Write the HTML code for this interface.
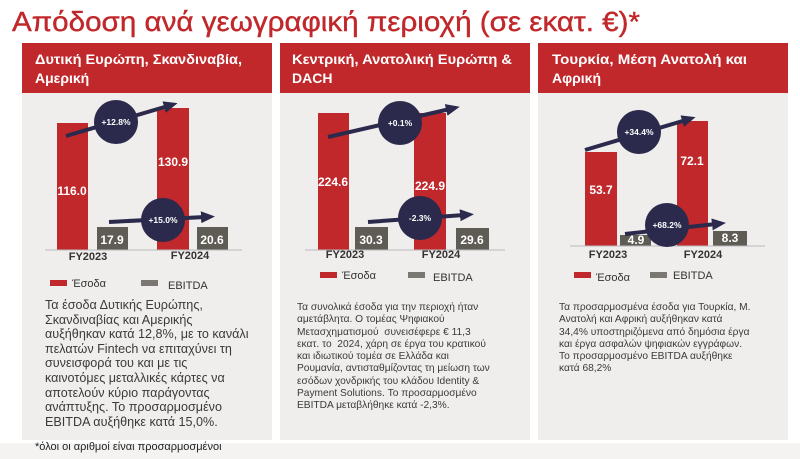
<!DOCTYPE html>
<html><head><meta charset="utf-8"><style>
body{margin:0;width:800px;height:459px;background:#fff;position:relative;overflow:hidden;font-family:"Liberation Sans","DejaVu Sans",sans-serif}
.t{position:absolute;color:#3a3a3a;white-space:nowrap}
</style></head><body>
<svg width="800" height="459" style="position:absolute;left:0;top:0" font-family="Liberation Sans, DejaVu Sans, sans-serif">
<defs><marker id="ah" markerUnits="userSpaceOnUse" markerWidth="14" markerHeight="12" refX="4" refY="6" orient="auto"><path d="M0,0 L14,6 L0,12 z" fill="#2b2a4c"/></marker></defs>
<text x="12" y="31" font-size="28" fill="#c0282b" stroke="#c0282b" stroke-width="0.4" textLength="628" lengthAdjust="spacingAndGlyphs">Απόδοση ανά γεωγραφική περιοχή (σε εκατ. €)*</text>
<rect x="22" y="93" width="250" height="347" fill="#efeeec"/>
<rect x="280" y="93" width="250" height="347" fill="#efeeec"/>
<rect x="538" y="93" width="250" height="347" fill="#efeeec"/>
<rect x="0" y="443" width="800" height="16" fill="#f4f3f2"/>
<rect x="22" y="43" width="250" height="50" fill="#c0282b"/>
<rect x="280" y="43" width="250" height="50" fill="#c0282b"/>
<rect x="538" y="43" width="250" height="50" fill="#c0282b"/>
<g fill="#fff" font-size="14" font-weight="bold">
<text x="35" y="64" textLength="207" lengthAdjust="spacingAndGlyphs">Δυτική Ευρώπη, Σκανδιναβία,</text><text x="35" y="83">Αμερική</text>
<text x="292" y="64" textLength="220" lengthAdjust="spacingAndGlyphs">Κεντρική, Ανατολική Ευρώπη &amp;</text><text x="292" y="83">DACH</text>
<text x="552" y="64" textLength="195" lengthAdjust="spacingAndGlyphs">Τουρκία, Μέση Ανατολή και</text><text x="552" y="83">Αφρική</text>
</g>
<g>
<rect x="57" y="123" width="31" height="127" fill="#c0282b"/>
<rect x="157" y="108" width="32" height="142" fill="#c0282b"/>
<rect x="97" y="227" width="31" height="23" fill="#5f5b55"/>
<rect x="197" y="227" width="31" height="23" fill="#5f5b55"/>
<line x1="45" y1="250" x2="242" y2="250" stroke="#bbb"/>
<line x1="66" y1="136" x2="168" y2="106" stroke="#2b2a4c" stroke-width="4" marker-end="url(#ah)"/>
<circle cx="116" cy="122" r="22" fill="#2b2a4c"/>
<line x1="109" y1="222" x2="205" y2="217" stroke="#2b2a4c" stroke-width="4" marker-end="url(#ah)"/>
<circle cx="163" cy="220" r="22" fill="#2b2a4c"/>
</g>
<g>
<rect x="318" y="113" width="31" height="137" fill="#c0282b"/>
<rect x="414" y="113" width="32" height="137" fill="#c0282b"/>
<rect x="355" y="227" width="33" height="23" fill="#5f5b55"/>
<rect x="456" y="228" width="33" height="22" fill="#5f5b55"/>
<line x1="305" y1="250" x2="505" y2="250" stroke="#bbb"/>
<line x1="328" y1="137" x2="450" y2="109" stroke="#2b2a4c" stroke-width="4" marker-end="url(#ah)"/>
<circle cx="400" cy="123" r="22" fill="#2b2a4c"/>
<line x1="368" y1="222" x2="464" y2="215" stroke="#2b2a4c" stroke-width="4" marker-end="url(#ah)"/>
<circle cx="420" cy="218" r="22" fill="#2b2a4c"/>
</g>
<g>
<rect x="585" y="152" width="32" height="94" fill="#c0282b"/>
<rect x="677" y="121" width="31" height="125" fill="#c0282b"/>
<rect x="620" y="235" width="31" height="11" fill="#5f5b55"/>
<rect x="713" y="231" width="34" height="15" fill="#5f5b55"/>
<line x1="570" y1="246" x2="765" y2="246" stroke="#bbb"/>
<line x1="585" y1="150" x2="686" y2="120" stroke="#2b2a4c" stroke-width="4" marker-end="url(#ah)"/>
<circle cx="639" cy="132" r="22" fill="#2b2a4c"/>
<line x1="625" y1="234" x2="716" y2="224" stroke="#2b2a4c" stroke-width="4" marker-end="url(#ah)"/>
<circle cx="667" cy="225" r="22" fill="#2b2a4c"/>
</g>
<g fill="#fff" font-size="12" font-weight="bold" text-anchor="middle">
<text x="72" y="195">116.0</text><text x="173" y="166">130.9</text>
<text x="112" y="244">17.9</text><text x="212" y="244">20.6</text>
<text x="333" y="186">224.6</text><text x="430" y="190">224.9</text>
<text x="371" y="244">30.3</text><text x="472" y="244">29.6</text>
<text x="601" y="194">53.7</text><text x="692" y="165">72.1</text>
<text x="636" y="244">4.9</text><text x="730" y="242">8.3</text>
</g>
<g fill="#fff" font-size="8.5" font-weight="bold" text-anchor="middle">
<text x="116" y="125">+12.8%</text><text x="163" y="223">+15.0%</text>
<text x="400" y="126">+0.1%</text><text x="420" y="221">-2.3%</text>
<text x="639" y="135">+34.4%</text><text x="667" y="228">+68.2%</text>
</g>
<g fill="#333" font-size="11" font-weight="bold" text-anchor="middle">
<text x="88" y="260">FY2023</text><text x="190" y="259">FY2024</text>
<text x="345" y="258">FY2023</text><text x="441" y="258">FY2024</text>
<text x="608" y="258">FY2023</text><text x="703" y="258">FY2024</text>
</g>
<g font-size="11" fill="#333">
<rect x="50" y="280" width="17" height="6" fill="#c0282b"/><text x="72" y="287">Έσοδα</text>
<rect x="141" y="280" width="17" height="6" fill="#7a7772"/><text x="168" y="289">EBITDA</text>
<rect x="320" y="272" width="17" height="6" fill="#c0282b"/><text x="342" y="279">Έσοδα</text>
<rect x="408" y="272" width="17" height="6" fill="#7a7772"/><text x="433" y="281">EBITDA</text>
<rect x="574" y="272" width="17" height="6" fill="#c0282b"/><text x="596" y="281">Έσοδα</text>
<rect x="650" y="272" width="17" height="6" fill="#7a7772"/><text x="673" y="279">EBITDA</text>
</g>
</svg>
<div class="t" style="left:45px;top:298px;font-size:12.6px;line-height:14.6px">Τα έσοδα Δυτικής Ευρώπης,<br>Σκανδιναβίας και Αμερικής<br>αυξήθηκαν κατά 12,8%, με το κανάλι<br>πελατών Fintech να επιταχύνει τη<br>συνεισφορά του και με τις<br>καινοτόμες μεταλλικές κάρτες να<br>αποτελούν κύριο παράγοντας<br>ανάπτυξης. Το προσαρμοσμένο<br>EBITDA αυξήθηκε κατά 15,0%.</div>
<div class="t" style="left:297px;top:302px;font-size:10.2px;line-height:12.3px">Τα συνολικά έσοδα για την περιοχή ήταν<br>αμετάβλητα. Ο τομέας Ψηφιακού<br>Μετασχηματισμού &nbsp;συνεισέφερε € 11,3<br>εκατ. το &nbsp;2024, χάρη σε έργα του κρατικού<br>και ιδιωτικού τομέα σε Ελλάδα και<br>Ρουμανία, αντισταθμίζοντας τη μείωση των<br>εσόδων χονδρικής του κλάδου Identity &amp;<br>Payment Solutions. Το προσαρμοσμένο<br>EBITDA μεταβλήθηκε κατά -2,3%.</div>
<div class="t" style="left:559px;top:302px;font-size:10.2px;line-height:12.3px">Τα προσαρμοσμένα έσοδα για Τουρκία, Μ.<br>Ανατολή και Αφρική αυξήθηκαν κατά<br>34,4% υποστηριζόμενα από δημόσια έργα<br>και έργα ασφαλών ψηφιακών εγγράφων.<br>Το προσαρμοσμένο EBITDA αυξήθηκε<br>κατά 68,2%</div>
<div class="t" style="left:35px;top:441px;font-size:11px;color:#222">*όλοι οι αριθμοί είναι προσαρμοσμένοι</div>
</body></html>
